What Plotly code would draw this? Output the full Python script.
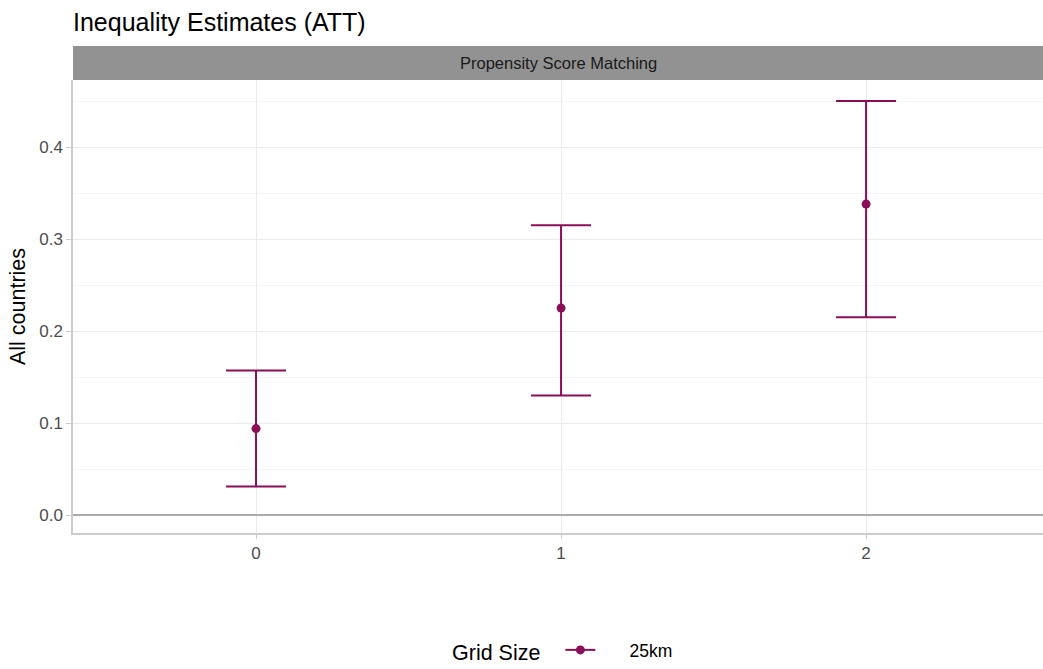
import plotly.graph_objects as go

categories = [0, 1, 2]
estimates = [0.094, 0.225, 0.338]
lower = [0.031, 0.130, 0.215]
upper = [0.157, 0.315, 0.450]
series_name = "25km"
y_ticks = [0.0, 0.1, 0.2, 0.3, 0.4]
y_tick_labels = ["0.0", "0.1", "0.2", "0.3", "0.4"]

color = "#8B0F58"
W, H = 1043, 669
ml, mr, mt, mb = 73, 0, 80, 136
plot_h = H - mt - mb
plot_w = W - ml - mr
FONT = "Liberation Sans, Arial, sans-serif"
NB = "\u00a0"

fig = go.Figure()
fig.add_trace(go.Scatter(
    x=categories, y=estimates, mode="markers",
    marker=dict(color=color, size=9),
    error_y=dict(type="data", symmetric=False,
                 array=[u - e for u, e in zip(upper, estimates)],
                 arrayminus=[e - l for e, l in zip(estimates, lower)],
                 color=color, thickness=2, width=30),
    showlegend=False, hoverinfo="x+y"))
fig.add_trace(go.Scatter(
    x=[None], y=[None], mode="lines+markers", name=NB * 6 + series_name,
    line=dict(color=color, width=2), marker=dict(color=color, size=9)))

# facet strip
fig.add_shape(type="rect", xref="paper", yref="paper", x0=0, x1=1,
              y0=1.0, y1=1.0 + 34 / plot_h,
              fillcolor="#929292", line=dict(width=0), layer="above")
fig.add_annotation(text="Propensity Score Matching", xref="paper", yref="paper",
                   x=0.5, y=1.0 + 17 / plot_h, showarrow=False,
                   font=dict(family=FONT, size=16.5, color="#1A1A1A"),
                   xanchor="center", yanchor="middle")

fig.update_layout(
    width=W, height=H, autosize=False,
    margin=dict(l=ml, r=mr, t=mt, b=mb, autoexpand=False),
    paper_bgcolor="white", plot_bgcolor="white",
    font=dict(family=FONT, color="#4D4D4D"),
    title=dict(text="Inequality Estimates (ATT)", x=0, xref="paper", xanchor="left",
               y=1 - 22 / H, yref="container", yanchor="middle",
               font=dict(size=25, color="black")),
    xaxis=dict(range=[-0.6, 2.58], tickvals=categories, ticktext=[str(c) for c in categories],
               showgrid=True, gridcolor="#EBEBEB", gridwidth=1,
               zeroline=False, showline=True, linecolor="#CCCCCC", linewidth=1.5,
               ticks="outside", ticklen=4, tickcolor="#CCCCCC",
               tickfont=dict(size=17, color="#4D4D4D")),
    yaxis=dict(range=[-0.0195, 0.4729], tickvals=y_ticks, ticktext=y_tick_labels,
               showgrid=True, gridcolor="#EBEBEB", gridwidth=1,
               minor=dict(dtick=0.05, showgrid=True, gridcolor="#F5F5F5", gridwidth=1),
               zeroline=True, zerolinecolor="#ABABAB", zerolinewidth=2,
               showline=True, linecolor="#CCCCCC", linewidth=1.5,
               ticks="outside", ticklen=5, tickcolor="#CCCCCC",
               tickfont=dict(size=17, color="#4D4D4D"),
               title=dict(text="All countries", font=dict(size=21.5, color="black"), standoff=8)),
    legend=dict(orientation="h", x=(450 - ml) / plot_w, xanchor="left",
                y=-(651 - (H - mb)) / plot_h, yanchor="middle",
                title=dict(text="Grid Size" + NB * 2, font=dict(size=21.5, color="black")),
                font=dict(size=17.5, color="black")),
)

fig.write_html("out.html", config={"displayModeBar": False},
               post_script="document.body.style.margin='0';document.body.style.overflow='hidden';")
